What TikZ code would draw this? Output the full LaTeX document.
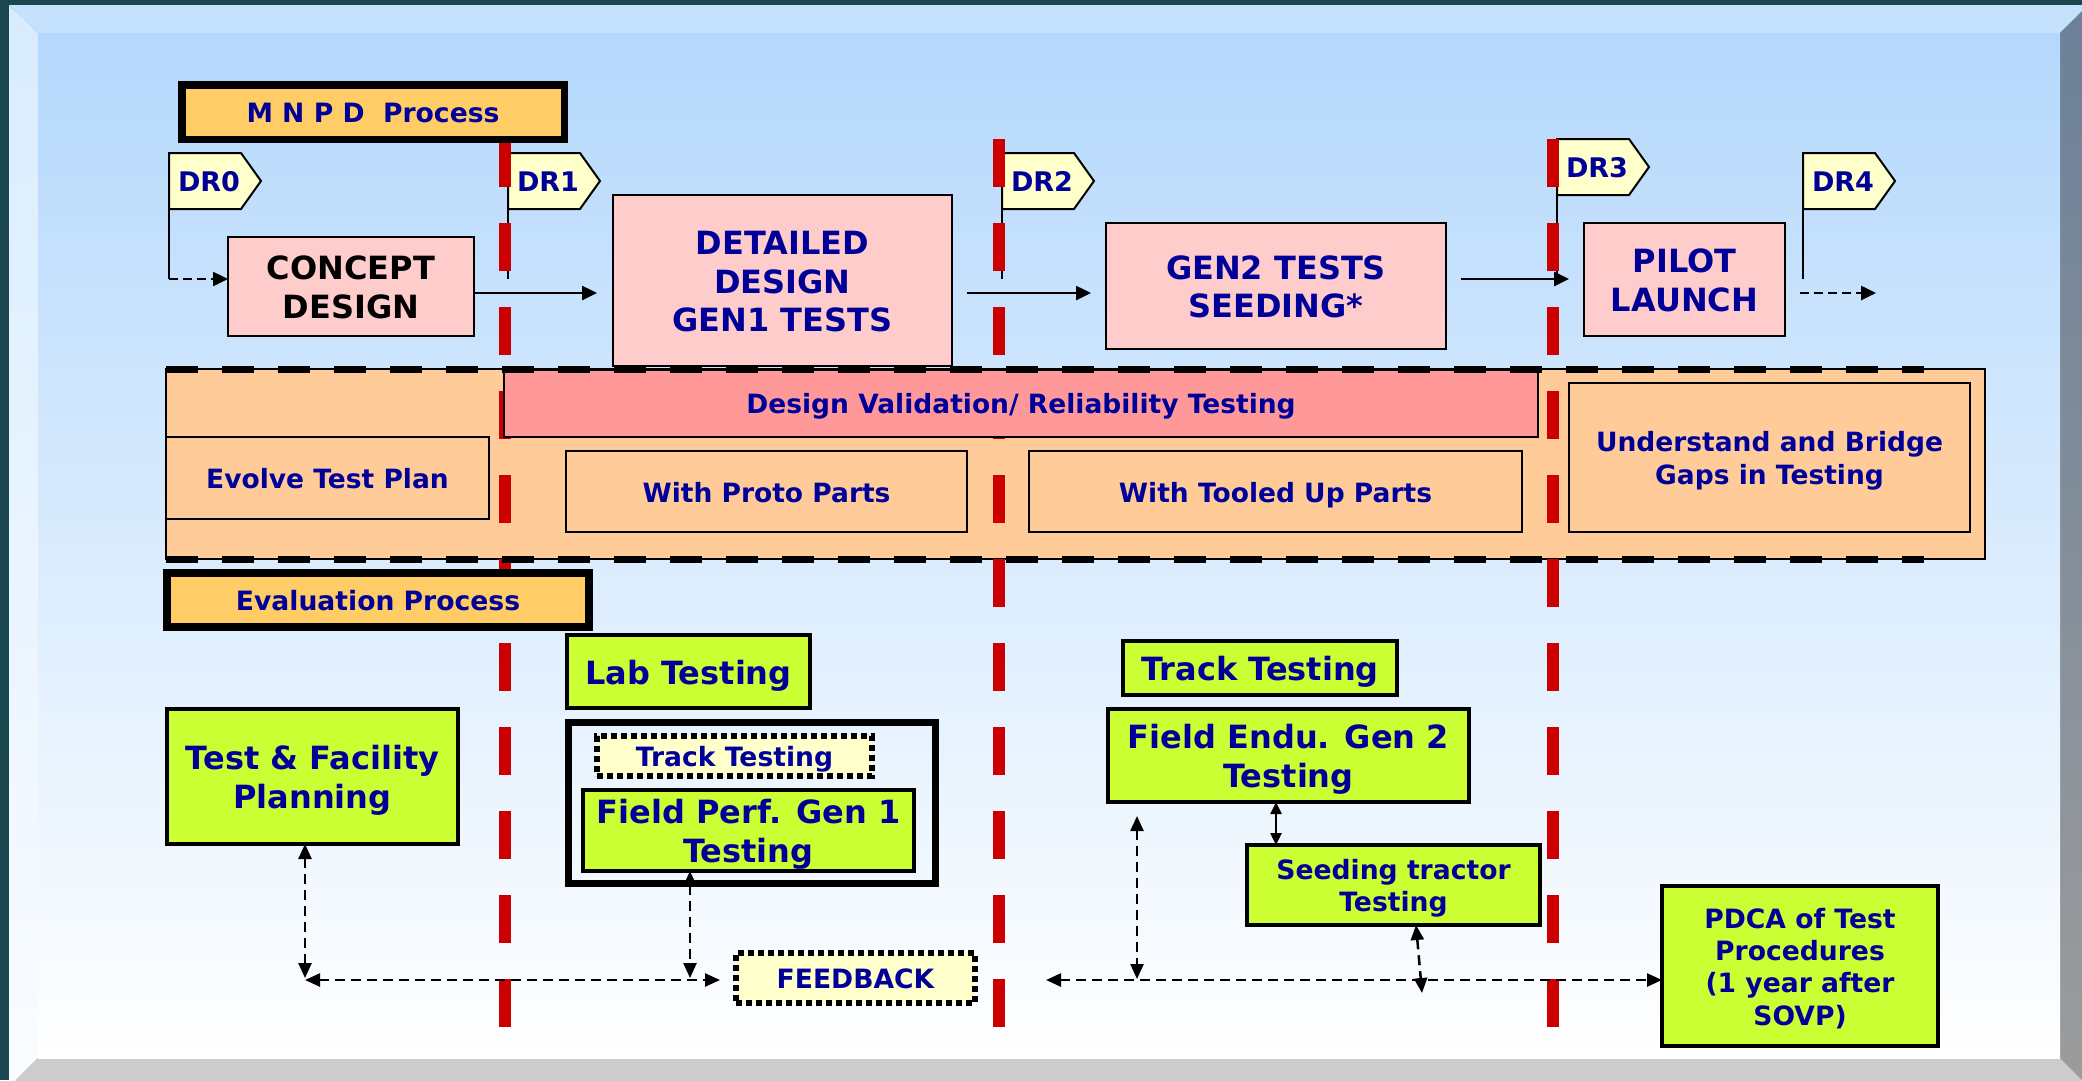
\documentclass[tikz,border=0pt]{standalone}
\usepackage{fontspec}
\setmainfont{DejaVu Sans}
\usetikzlibrary{arrows.meta}
\definecolor{navy}{HTML}{000099}
\definecolor{pinkf}{HTML}{FFCCCC}
\definecolor{dvpink}{HTML}{FF9999}
\definecolor{orangef}{HTML}{FFCC99}
\definecolor{goldf}{HTML}{FFCC66}
\definecolor{greenf}{HTML}{CCFF33}
\definecolor{flagf}{HTML}{FFFFCC}
\definecolor{redl}{HTML}{CC0000}
\definecolor{darkfr}{HTML}{1A4650}
\definecolor{bgtop}{HTML}{B4D8FC}
\definecolor{bevtop}{HTML}{C4E2FE}
\definecolor{bevleft}{HTML}{D8ECFE}
\definecolor{bevlb}{HTML}{FAFCFF}
\definecolor{bevright}{HTML}{6C8098}
\definecolor{bevrb}{HTML}{9C9C9C}
\definecolor{bevbot}{HTML}{CCCCCC}
\newcommand\topstrut{\rule[-0.21em]{0pt}{1.215em}}
\newcommand\botstrut{\rule[-0.21em]{0pt}{0.21em}}
\newcommand\drflag[4]{%
  \path[flagshape] (#2,#3) -- ++(72,0) -- ++(20,28) -- ++(-20,28) -- ++(-72,0) -- cycle;
  \draw[pole] (#2,#3) -- (#2,279);
  \coordinate (#1b) at (#2,279);
  \node[flagtxt] (#1) at (#2+40,#3+28) {#4};
}
\begin{document}
\begin{tikzpicture}[x=1pt,y=-1pt,
 wh/.style 2 args={minimum width=#1pt, minimum height=#2pt},
 box/.style={draw=black, line width=2pt, inner sep=0pt, outer sep=0pt, align=center, text=navy,
   execute at begin node=\topstrut, execute at end node=\botstrut},
 big/.style={font=\bfseries\fontsize{32}{38.5}\selectfont},
 small/.style={font=\bfseries\fontsize{26.6}{32.3}\selectfont},
 mid/.style={font=\bfseries\fontsize{26.5}{32.5}\selectfont},
 pinkbox/.style={box, fill=pinkf, big},
 orbox/.style={box, fill=orangef, mid},
 greenbox/.style={box, fill=greenf, line width=4pt},
 goldbox/.style={box, fill=goldf, line width=8pt, small},
 dotbox/.style={box, fill=flagf, line width=5.5pt, dash pattern=on 6pt off 4pt, small},
 flagshape/.style={draw=black, line width=2pt, fill=flagf},
 flagtxt/.style={text=navy, font=\bfseries\fontsize{27}{32}\selectfont, inner sep=0pt,
   execute at begin node=\topstrut},
 pole/.style={draw=black, line width=2pt},
 redline/.style={draw=redl, line width=12pt, dash pattern=on 48pt off 36pt},
 arr/.style={draw=black, line width=2.5pt, -{Triangle[length=15pt,width=14pt]}},
 darr/.style={arr, dash pattern=on 9pt off 5pt},
 dconn/.style={draw=black, line width=2.5pt, dash pattern=on 10pt off 6pt, {Triangle[length=15pt,width=13pt]}-{Triangle[length=15pt,width=13pt]}},
 sconn/.style={draw=black, line width=2.5pt, {Triangle[length=12pt,width=11pt]}-{Triangle[length=12pt,width=11pt]}},
 banddash/.style={draw=black, line width=7pt, dash pattern=on 32pt off 24pt},
]
\useasboundingbox (0,0) rectangle (2082,1080);
% frame
\fill[darkfr] (0,0) rectangle (2082,1080);
\fill[bevtop] (9,5) -- (2089,5) -- (2060,33) -- (38,33) -- cycle;
\shade[top color=bevleft, bottom color=bevlb] (9,5) -- (38,33) -- (38,1058) -- (9,1087) -- cycle;
\shade[top color=bevright, bottom color=bevrb] (2060,33) -- (2089,4) -- (2089,1087) -- (2060,1058) -- cycle;
\fill[bevbot] (9,1087) -- (38,1058) -- (2060,1058) -- (2089,1087) -- cycle;
\shade[top color=bgtop, bottom color=white] (38,33) rectangle (2060,1058);

% band
\node[box, fill=orangef, wh={1819}{190}] (band) at (1075.5,464) {};

% flags
\drflag{dr0}{169}{153}{DR0}
\drflag{dr1}{508}{153}{DR1}
\drflag{dr2}{1002}{153}{DR2}
\drflag{dr3}{1557}{139}{DR3}
\drflag{dr4}{1803}{153}{DR4}

% red milestone lines
\draw[redline] (505,139) -- (505,1027);
\draw[redline] (999,139) -- (999,1027);
\draw[redline] (1553,139) -- (1553,1027);

% top process boxes
\node[pinkbox, text=black, wh={246}{99}] (concept) at (351,286.5) {\topstrut CONCEPT\\DESIGN};
\node[pinkbox, wh={339}{171}] (detailed) at (782.5,280.5) {\topstrut DETAILED\\DESIGN\\GEN1 TESTS};
\node[pinkbox, wh={340}{126}] (gen2) at (1276,286) {\topstrut GEN2 TESTS\\SEEDING*};
\node[pinkbox, wh={201}{113}] (pilot) at (1684.5,279.5) {\topstrut PILOT\\LAUNCH};
\node[goldbox, line width=7.5pt, wh={382.5}{54.5}] (mnpd) at (373,112) {M N P D\ \ Process};

\coordinate (ya) at (0,293);
\coordinate (yb) at (0,279);
\coordinate (dr4e) at (1876,293);
\draw[darr] (dr0b) -- (concept.west |- dr0b);
\draw[arr, shorten >=16pt] (concept.east |- ya) -- (detailed.west |- ya);
\draw[arr, shorten <=15pt, shorten >=15pt] (detailed.east |- ya) -- (gen2.west |- ya);
\draw[arr, shorten <=15pt, shorten >=15pt] (gen2.east |- yb) -- (pilot.west |- yb);
\draw[darr, shorten <=-3pt] (dr4b |- ya) -- (dr4e);

% band contents
\node[box, fill=dvpink, mid, wh={1034}{67}] (dv) at (1021,403.5) {Design Validation/ Reliability Testing};
\node[orbox, wh={323}{82}] (evolve) at (327.5,478) {Evolve Test Plan};
\node[orbox, wh={401}{81}] (proto) at (766.5,491.5) {With Proto Parts};
\node[orbox, wh={493}{81}] (tooled) at (1275.5,491.5) {With Tooled Up Parts};
\node[orbox, wh={401}{149}] (gaps) at (1769.5,457.5) {\topstrut Understand and Bridge\\Gaps in Testing};
\draw[banddash, shorten >=61pt] ([yshift=-0.5pt]band.north west) -- ([yshift=-0.5pt]band.north east);
\draw[banddash, shorten >=61pt] ([yshift=-0.5pt]band.south west) -- ([yshift=-0.5pt]band.south east);

% evaluation
\node[goldbox, wh={422}{54}] (evalp) at (378,600) {Evaluation Process};
\node[greenbox, big, wh={243}{73}] (lab) at (688.5,671.5) {Lab Testing};
\node[greenbox, big, wh={291}{135}] (tfp) at (312.5,776.5) {\topstrut Test \& Facility\\Planning};
\node[draw=black, line width=7pt, inner sep=0pt, wh={367}{161}] (grp) at (752,803) {};
\node[dotbox, wh={275}{40}] (track1) at (734.5,756) {Track Testing};
\node[greenbox, big, wh={331}{81}] (fp1) at (748.5,830.5) {\topstrut Field Perf. Gen 1\\Testing};
\node[dotbox, wh={239}{50}] (fb) at (855.5,978) {FEEDBACK};
\node[greenbox, big, wh={274}{54}] (track2) at (1260,668) {Track Testing};
\node[greenbox, big, wh={361}{93}] (fe2) at (1288.5,755.5) {\topstrut Field Endu. Gen 2\\Testing};
\node[greenbox, small, wh={293}{80}] (seed) at (1393.5,885) {\topstrut Seeding tractor\\Testing};
\node[greenbox, small, wh={276}{160}] (pdca) at (1800,966) {\topstrut PDCA of Test\\Procedures\\(1 year after\\SOVP)};

% connectors
\coordinate (tfpv) at (305,978);
\coordinate (fbL) at (305,980);
\coordinate (fpv) at (690,978);
\coordinate (hR) at (1046,980);
\coordinate (v2b) at (1137,979);
\coordinate (v3) at (1276,0);
\coordinate (sd) at (1422,993);
\draw[dconn] (tfpv |- tfp.south) -- (tfpv);
\draw[dconn, shorten >=16pt] (fbL) -- (fb.west |- fbL);
\draw[dconn] (fpv |- fp1.south) -- (fpv);
\draw[dconn] (hR) -- (pdca.west |- hR);
\draw[dconn, shorten <=14pt] (v2b |- fe2.south) -- (v2b);
\draw[sconn] (fe2.south -| v3) -- (seed.north -| v3);
\draw[dconn] ([xshift=22.5pt]seed.south) -- (sd);
\end{tikzpicture}
\end{document}
